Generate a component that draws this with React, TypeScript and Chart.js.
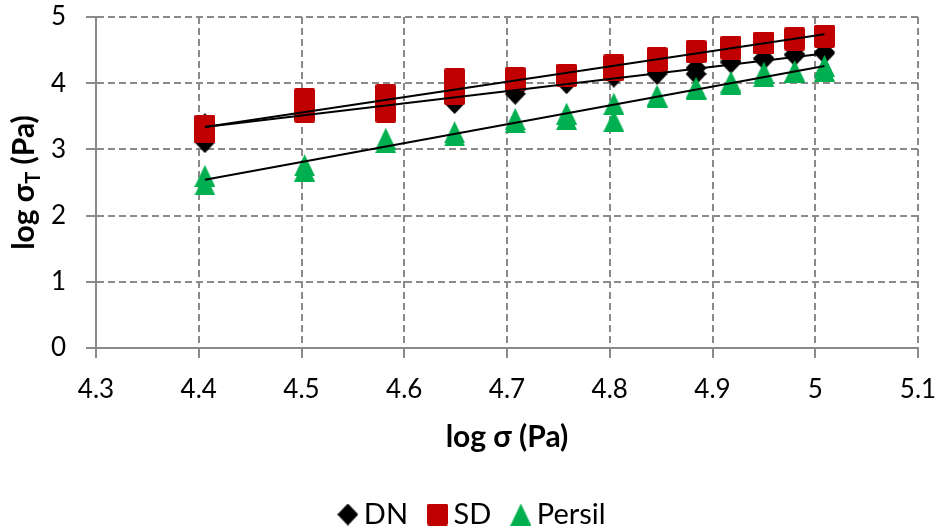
import React, { useEffect, useRef } from "react";
import { Chart, registerables } from "chart.js";

Chart.register(...registerables);

// ---- data ----
const xValues = [4.406, 4.503, 4.582, 4.649, 4.708, 4.758, 4.804, 4.846, 4.884, 4.918, 4.95, 4.98, 5.009];
const dnA = [3.11, 3.56, 3.62, 3.7, 3.84, 4.0, 4.1, 4.14, 4.14, 4.31, 4.36, 4.42, 4.45];
const dnB = [3.38, 3.7, 3.68, 3.85, 3.9, 4.05, 4.15, 4.18, 4.23, 4.33, 4.38, 4.44, 4.47];
const sdA = [3.36, 3.76, 3.82, 4.06, 4.08, 4.13, 4.27, 4.38, 4.48, 4.55, 4.61, 4.68, 4.72];
const sdB = [3.26, 3.57, 3.57, 3.84, 4.05, 4.11, 4.2, 4.34, 4.47, 4.52, 4.6, 4.66, 4.7];
const persilA = [2.6, 2.76, 3.16, 3.26, 3.46, 3.54, 3.69, 3.81, 3.93, 4.02, 4.16, 4.18, 4.26];
const persilB = [2.47, 2.68, 3.11, 3.21, 3.41, 3.46, 3.43, 3.79, 3.91, 3.99, 4.11, 4.17, 4.19];

const trendX = [4.406, 5.009];
const dnTrend = [3.34, 4.45];
const sdTrend = [3.34, 4.74];
const persilTrend = [2.54, 4.26];

const seriesNames = ["DN", "SD", "Persil"];
const xTicks = [4.3, 4.4, 4.5, 4.6, 4.7, 4.8, 4.9, 5.0, 5.1];
const xTickLabels = ["4.3", "4.4", "4.5", "4.6", "4.7", "4.8", "4.9", "5", "5.1"];
const yTicks = [0, 1, 2, 3, 4, 5];
const yTickLabels = ["0", "1", "2", "3", "4", "5"];

const xTitle = "log σ (Pa)";
const yTitleMain = "log σ";
const yTitleSub = "T";
const yTitleUnit = " (Pa)";

// ---- styles ----
const FONT = 'Lato, "Open Sans", sans-serif';
const GRID = "#8a8a8a";
const RED = "#C00000";
const GREEN = "#00B050";
const BLACK = "#000000";

function makeMarker(shape: string, color: string): HTMLCanvasElement {
  const w = 21;
  const h = 22;
  const c = document.createElement("canvas");
  c.width = w;
  c.height = h;
  const g = c.getContext("2d")!;
  g.fillStyle = color;
  g.beginPath();
  if (shape === "diamond") {
    g.moveTo(w / 2, 0);
    g.lineTo(w, h / 2);
    g.lineTo(w / 2, h);
    g.lineTo(0, h / 2);
  } else if (shape === "triangle") {
    g.moveTo(w / 2, 0);
    g.lineTo(w, h);
    g.lineTo(0, h);
  } else {
    const r = 2;
    g.moveTo(r, 0);
    g.lineTo(w - r, 0);
    g.quadraticCurveTo(w, 0, w, r);
    g.lineTo(w, h - r);
    g.quadraticCurveTo(w, h, w - r, h);
    g.lineTo(r, h);
    g.quadraticCurveTo(0, h, 0, h - r);
    g.lineTo(0, r);
    g.quadraticCurveTo(0, 0, r, 0);
  }
  g.closePath();
  g.fill();
  return c;
}

function pts(a: number[], b: number[]) {
  return xValues.map((x, i) => ({ x, y: a[i] })).concat(xValues.map((x, i) => ({ x, y: b[i] })));
}
function trend(t: number[]) {
  return trendX.map((x, i) => ({ x, y: t[i] }));
}

const titlePlugin = {
  id: "axisTitles",
  afterDraw(chart: any) {
    const { ctx, chartArea } = chart;
    ctx.save();
    ctx.fillStyle = "#000";
    const big = `bold 30px ${FONT}`;
    const small = `bold 20px ${FONT}`;
    ctx.font = big;
    ctx.textAlign = "center";
    ctx.textBaseline = "middle";
    ctx.fillText(xTitle, (chartArea.left + chartArea.right) / 2, chartArea.bottom + 89);

    const cy = (chartArea.top + chartArea.bottom) / 2;
    ctx.translate(34, cy);
    ctx.rotate(-Math.PI / 2);
    ctx.textAlign = "left";
    ctx.textBaseline = "alphabetic";
    ctx.font = big;
    const w1 = ctx.measureText(yTitleMain).width;
    const w3 = ctx.measureText(yTitleUnit).width;
    ctx.font = small;
    const w2 = ctx.measureText(yTitleSub).width;
    let x = -(w1 + w2 + w3) / 2;
    ctx.font = big;
    ctx.fillText(yTitleMain, x, 0);
    x += w1;
    ctx.font = small;
    ctx.fillText(yTitleSub, x, 6);
    x += w2;
    ctx.font = big;
    ctx.fillText(yTitleUnit, x, 0);
    ctx.restore();
  },
};

export default function App() {
  const ref = useRef<HTMLCanvasElement>(null);
  useEffect(() => {
    const diamond = makeMarker("diamond", BLACK);
    const square = makeMarker("square", RED);
    const triangle = makeMarker("triangle", GREEN);
    const tickFont = { family: FONT, size: 26 };
    const gridCommon = {
      color: GRID,
      lineWidth: 2,
      drawTicks: true,
      tickLength: 10,
      tickColor: GRID,
      tickWidth: 2,
      tickBorderDash: [],
    };
    const chart = new Chart(ref.current!, {
      type: "scatter",
      data: {
        datasets: [
          {
            label: seriesNames[0],
            data: pts(dnA, dnB),
            pointStyle: diamond as any,
            pointRadius: 10,
            backgroundColor: BLACK,
            borderColor: BLACK,
            order: 3,
          },
          {
            label: seriesNames[1],
            data: pts(sdA, sdB),
            pointStyle: square as any,
            pointRadius: 10,
            backgroundColor: RED,
            borderColor: RED,
            order: 2,
          },
          {
            label: seriesNames[2],
            data: pts(persilA, persilB),
            pointStyle: triangle as any,
            pointRadius: 10,
            backgroundColor: GREEN,
            borderColor: GREEN,
            order: 1,
          },
          {
            label: "DN trend",
            data: trend(dnTrend),
            showLine: true,
            pointRadius: 0,
            borderColor: BLACK,
            borderWidth: 2,
            order: 0,
          },
          {
            label: "SD trend",
            data: trend(sdTrend),
            showLine: true,
            pointRadius: 0,
            borderColor: BLACK,
            borderWidth: 2,
            order: 0,
          },
          {
            label: "Persil trend",
            data: trend(persilTrend),
            showLine: true,
            pointRadius: 0,
            borderColor: BLACK,
            borderWidth: 2,
            order: 0,
          },
        ],
      },
      options: {
        animation: false,
        responsive: true,
        maintainAspectRatio: false,
        devicePixelRatio: 1,
        layout: { padding: { left: 13, right: 0, top: 17, bottom: 0 } },
        plugins: {
          tooltip: { enabled: false },
          legend: {
            position: "bottom",
            maxHeight: 58,
            labels: {
              usePointStyle: true,
              pointStyleWidth: 3,
              padding: 28,
              color: "#000",
              font: { family: FONT, size: 29 },
              filter: (item: any) => item.datasetIndex < 3,
              sort: (a: any, b: any) => a.datasetIndex - b.datasetIndex,
            },
          },
        },
        scales: {
          x: {
            type: "linear",
            min: xTicks[0],
            max: xTicks[xTicks.length - 1],
            afterBuildTicks: (s: any) => {
              s.ticks = xTicks.map((v) => ({ value: v }));
            },
            afterFit: (s: any) => {
              s.height = 124;
              s.paddingRight = 21;
              s.paddingLeft = 0;
            },
            ticks: {
              autoSkip: false,
              maxRotation: 0,
              padding: 16,
              color: "#000",
              font: tickFont,
              callback: (_v: any, i: number) => xTickLabels[i],
            },
            grid: gridCommon,
            border: { display: true, color: GRID, width: 2, dash: [7, 4] },
          },
          y: {
            type: "linear",
            min: yTicks[0],
            max: yTicks[yTicks.length - 1],
            afterBuildTicks: (s: any) => {
              s.ticks = yTicks.map((v) => ({ value: v }));
            },
            afterFit: (s: any) => {
              s.width = 83;
              s.paddingTop = 0;
              s.paddingBottom = 0;
            },
            ticks: {
              autoSkip: false,
              padding: 20,
              color: "#000",
              font: tickFont,
              callback: (_v: any, i: number) => yTickLabels[i],
            },
            grid: gridCommon,
            border: { display: true, color: GRID, width: 2, dash: [7, 4] },
          },
        },
      },
      plugins: [titlePlugin],
    } as any);
    return () => chart.destroy();
  }, []);
  return (
    <div style={{ position: "fixed", left: 0, top: 0, width: 939, height: 530, background: "#fff" }}>
      <canvas ref={ref} />
    </div>
  );
}
